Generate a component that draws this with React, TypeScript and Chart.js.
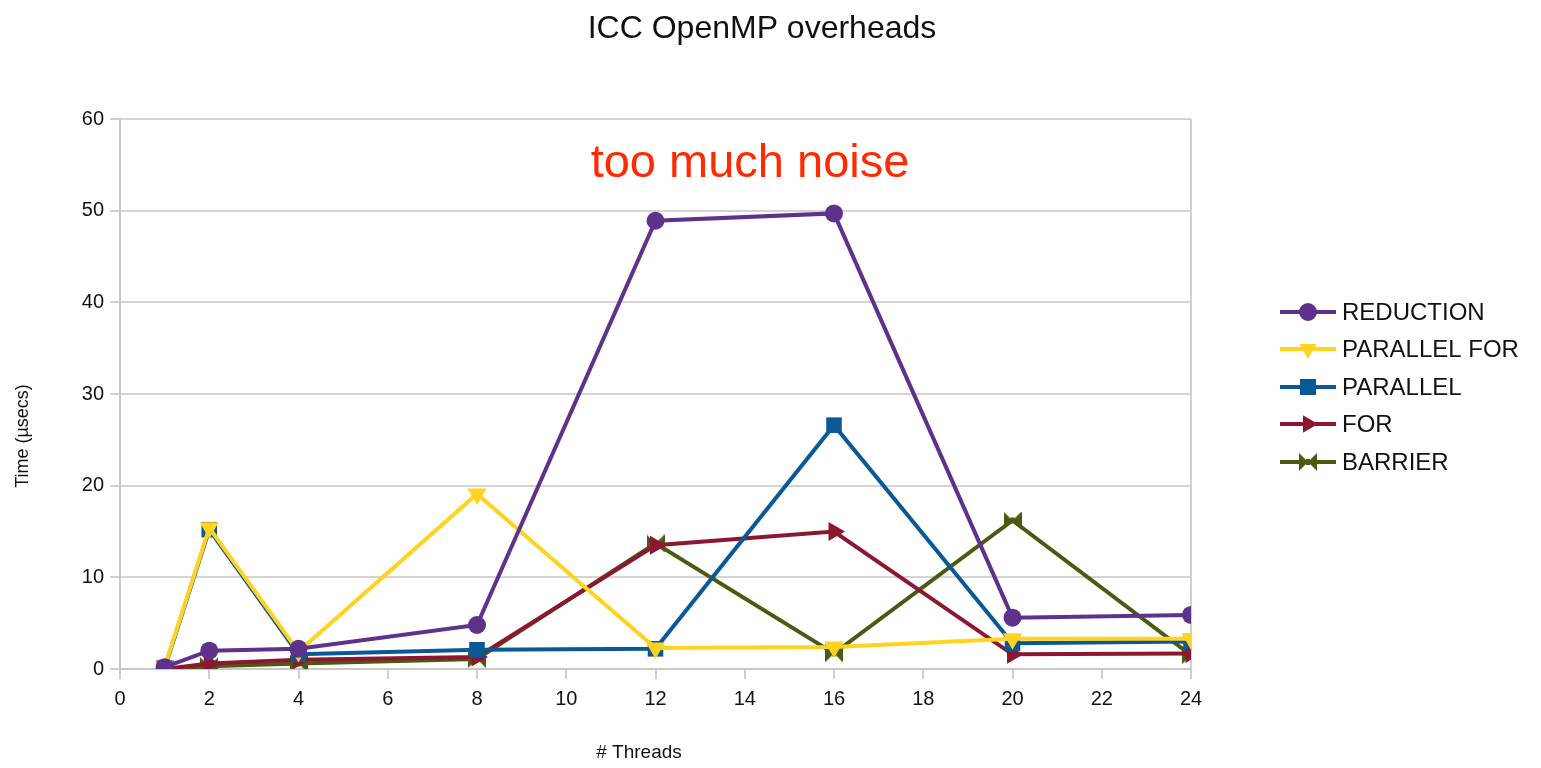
import React, { useEffect, useRef } from "react";
import { Chart, registerables } from "chart.js";

Chart.register(...registerables);

const threads = [1, 2, 4, 8, 12, 16, 20, 24];
const reduction = [0.2, 2.0, 2.2, 4.8, 48.9, 49.7, 5.6, 5.9];
const parallelFor = [0.2, 15.4, 1.9, 19.1, 2.3, 2.4, 3.3, 3.3];
const parallel = [0.1, 15.2, 1.6, 2.1, 2.2, 26.6, 2.8, 3.0];
const forLoop = [0.0, 0.6, 1.0, 1.3, 13.5, 15.0, 1.6, 1.7];
const barrier = [0.0, 0.3, 0.6, 1.1, 13.7, 1.7, 16.2, 1.5];

const seriesNames = ["REDUCTION", "PARALLEL FOR", "PARALLEL", "FOR", "BARRIER"];
const seriesColors = ["#5e318b", "#ffd320", "#0a5996", "#8b1830", "#4a5a10"];

const chartTitle = "ICC OpenMP overheads";
const noteText = "too much noise";
const xTitle = "# Threads";
const yTitle = "Time (µsecs)";

const FONT = "'Liberation Sans', Arial, sans-serif";

function makeBowtie(color: string, size: number): HTMLCanvasElement {
  const c = document.createElement("canvas");
  c.width = size;
  c.height = size;
  const ctx = c.getContext("2d")!;
  ctx.fillStyle = color;
  ctx.beginPath();
  ctx.moveTo(0, 0);
  ctx.lineTo(size / 2, size / 2);
  ctx.lineTo(0, size);
  ctx.closePath();
  ctx.fill();
  ctx.beginPath();
  ctx.moveTo(size, 0);
  ctx.lineTo(size / 2, size / 2);
  ctx.lineTo(size, size);
  ctx.closePath();
  ctx.fill();
  ctx.fillRect(size / 2 - 2, size / 2 - 3, 4, 6);
  return c;
}

function drawMarker(ctx: CanvasRenderingContext2D, kind: number, x: number, y: number, color: string, bow: HTMLCanvasElement) {
  ctx.save();
  ctx.fillStyle = color;
  ctx.beginPath();
  if (kind === 0) {
    ctx.arc(x, y, 9, 0, Math.PI * 2);
    ctx.fill();
  } else if (kind === 1) {
    const r = 10;
    ctx.moveTo(x - r * 0.866, y - r * 0.5);
    ctx.lineTo(x + r * 0.866, y - r * 0.5);
    ctx.lineTo(x, y + r);
    ctx.closePath();
    ctx.fill();
  } else if (kind === 2) {
    ctx.fillRect(x - 8, y - 8, 16, 16);
  } else if (kind === 3) {
    const r = 10;
    ctx.moveTo(x - r * 0.5, y - r * 0.866);
    ctx.lineTo(x + r, y);
    ctx.lineTo(x - r * 0.5, y + r * 0.866);
    ctx.closePath();
    ctx.fill();
  } else {
    ctx.drawImage(bow, x - bow.width / 2, y - bow.height / 2);
  }
  ctx.restore();
}

export default function App() {
  const ref = useRef<HTMLCanvasElement | null>(null);

  useEffect(() => {
    if (!ref.current) return;
    const bow = makeBowtie(seriesColors[4], 18);
    const seriesData = [reduction, parallelFor, parallel, forLoop, barrier];
    const pointStyles: any[] = ["circle", "triangle", "rect", "triangle", bow];
    const rotations = [0, 180, 0, 90, 0];
    const radii = [9, 11, 11, 11, 9];

    const textPlugin = {
      id: "texts",
      afterDraw(chart: any) {
        const ctx: CanvasRenderingContext2D = chart.ctx;
        ctx.save();
        ctx.textAlign = "center";
        ctx.textBaseline = "middle";
        ctx.fillStyle = "#111";
        ctx.font = `32px ${FONT}`;
        ctx.fillText(chartTitle, 754, 21);

        ctx.fillStyle = "#ff2a00";
        ctx.font = `47px ${FONT}`;
        ctx.fillText(noteText, 742, 156);

        ctx.fillStyle = "#111";
        ctx.font = `19px ${FONT}`;
        ctx.fillText(xTitle, 631, 745);

        ctx.font = `18px ${FONT}`;
        ctx.save();
        ctx.translate(15, 428);
        ctx.rotate(-Math.PI / 2);
        ctx.fillText(yTitle, 0, 0);
        ctx.restore();

        const rows = [304, 341, 379, 416, 454];
        ctx.textAlign = "left";
        ctx.font = `24px ${FONT}`;
        seriesNames.forEach((name, i) => {
          const y = rows[i];
          ctx.strokeStyle = seriesColors[i];
          ctx.lineWidth = 4;
          ctx.beginPath();
          ctx.moveTo(1272, y);
          ctx.lineTo(1328, y);
          ctx.stroke();
          drawMarker(ctx, i, 1300, y, seriesColors[i], bow);
          ctx.fillStyle = "#111";
          ctx.fillText(name, 1334, y + 1);
        });
        ctx.restore();
      },
    };

    const chart = new Chart(ref.current, {
      type: "line",
      data: {
        datasets: seriesNames.map((name, i) => ({
          label: name,
          data: threads.map((t, j) => ({ x: t, y: seriesData[i][j] })),
          borderColor: seriesColors[i],
          backgroundColor: seriesColors[i],
          borderWidth: 4,
          pointStyle: pointStyles[i],
          rotation: rotations[i],
          pointRadius: radii[i],
          pointBorderWidth: 0,
          tension: 0,
        })),
      },
      options: {
        animation: false,
        responsive: false,
        layout: { padding: { left: 0, top: 111, right: 342, bottom: 0 } },
        plugins: {
          legend: { display: false },
          title: { display: false },
          tooltip: { enabled: false },
        },
        scales: {
          x: {
            type: "linear",
            min: 0,
            max: 24,
            afterFit: (s: any) => {
              s.height = 91;
            },
            ticks: {
              stepSize: 2,
              color: "#111",
              padding: 8,
              font: { family: FONT, size: 20 },
            },
            grid: {
              color: (c: any) => (c.tick && c.tick.value === 24 ? "#cfcfcf" : "rgba(0,0,0,0)"),
              tickColor: "#cfcfcf",
              tickLength: 10,
              lineWidth: 2,
            },
            border: { color: "#c8c8c8", width: 2 },
          },
          y: {
            min: 0,
            max: 60,
            afterFit: (s: any) => {
              s.width = 112;
            },
            ticks: {
              stepSize: 10,
              color: "#111",
              padding: 6,
              font: { family: FONT, size: 20 },
            },
            grid: {
              color: "#d4d4d4",
              tickColor: "#cfcfcf",
              tickLength: 10,
              lineWidth: 2,
            },
            border: { color: "#c8c8c8", width: 2 },
          },
        },
      },
      plugins: [textPlugin],
    } as any);

    return () => chart.destroy();
  }, []);

  return (
    <div style={{ width: 1525, height: 752 }}>
      <canvas ref={ref} width={1525} height={752} style={{ display: "block" }} />
    </div>
  );
}
